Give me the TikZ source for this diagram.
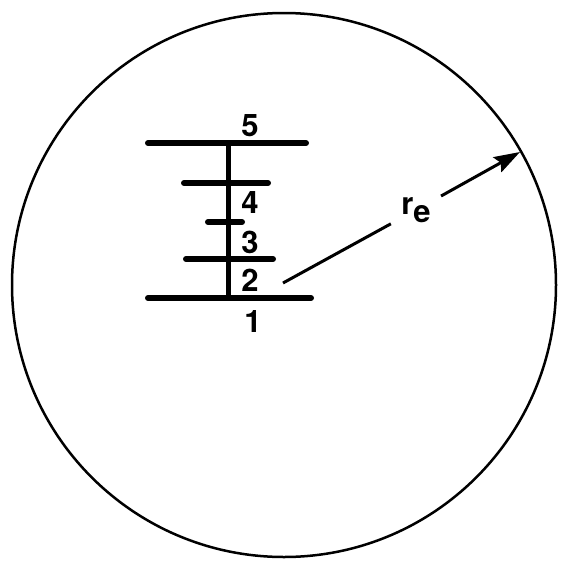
\documentclass[tikz,border=0pt]{standalone}
\usepackage{fontspec}
\setsansfont{TeX Gyre Heros}
\usetikzlibrary{arrows.meta, positioning}

\begin{document}
\begin{tikzpicture}[
    x=1pt, y=-1pt,
    rung/.style={line width=6pt, line cap=round},
    post/.style={line width=5pt},
    rim/.style={line width=2.5pt},
    lev/.style={font=\sffamily\bfseries\fontsize{31}{34}\selectfont, inner sep=0pt},
    radline/.style={line width=3pt},
    arrow/.style={-{Stealth[length=26pt, width=17pt, inset=4pt]}}
]
\useasboundingbox (0,0) rectangle (568,576);
% outer circle
\coordinate (cen) at (284,285);
\draw[rim] (cen) circle[radius=272pt];
% central post and the five rungs
\draw[post] (228,143) -- (228,298);
\draw[rung] (148,143) -- (306,143);
\draw[rung] (184,183) -- (268,183);
\draw[rung] (208,222) -- (242,222);
\draw[rung] (186,259) -- (273,259);
\draw[rung] (148,298) -- (311,298);
% level numbers
\node[lev] (n5) at (250,126) {5};
\node[lev] (n4) at (250,203) {4};
\node[lev] (n3) at (250,242) {3};
\node[lev] (n2) at (250,280) {2};
\node[lev] (n1) at (253,322) {1};
% radius
\coordinate (from) at (283,283);
\coordinate (edge) at (520,152);
\node[lev, circle, minimum size=57pt] (re) at (416,210) {r\raisebox{-0.5ex}{e}};
\draw[radline] (from) -- (re);
\draw[radline, arrow] (re) -- (edge);
\end{tikzpicture}
\end{document}
